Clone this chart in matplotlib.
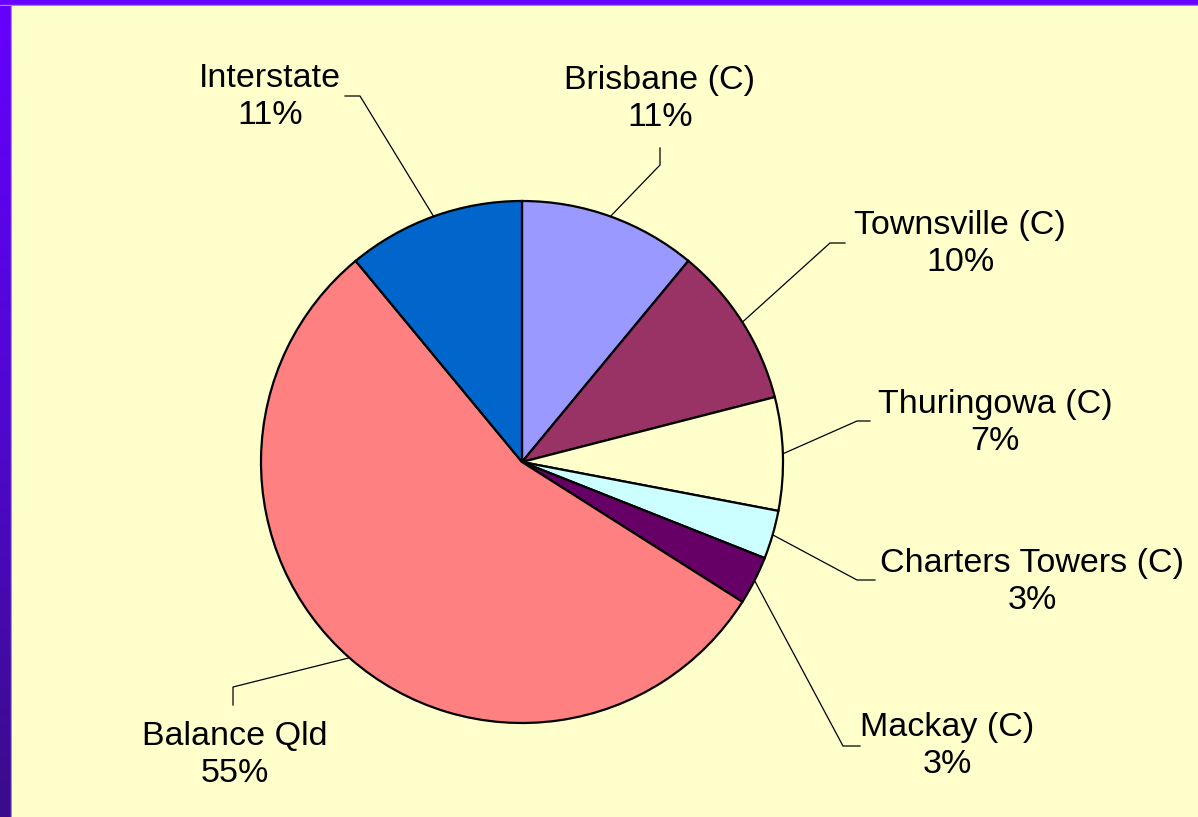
import numpy as np
import matplotlib.pyplot as plt
from matplotlib.patches import Rectangle
from matplotlib.colors import LinearSegmentedColormap

# share of each area, clockwise from 12 o'clock
areas = ['Brisbane (C)', 'Townsville (C)', 'Thuringowa (C)', 'Charters Towers (C)',
         'Mackay (C)', 'Balance Qld', 'Interstate']
shares = [11, 10, 7, 3, 3, 55, 11]
colours = ['#9999FF', '#993366', '#FFFFCC', '#CCFFFF', '#660066', '#FF8080', '#0066CC']

W, H = 1198, 817
TOP, LEFT = 6, 12
fig = plt.figure(figsize=(W / 100, H / 100), dpi=100)
fig.patch.set_facecolor('#FFFFCC')

# purple frame on the top and left side
top = fig.add_axes([0, 1 - TOP / H, 1, TOP / H])
top.add_patch(Rectangle((0, 0), 1, 1, color='#6600FF'))
top.add_patch(Rectangle((0, 0), 1, 1 / TOP, color='#A080FF'))
top.set_xlim(0, 1); top.set_ylim(0, 1); top.axis('off')

left = fig.add_axes([0, 0, LEFT / W, 1 - TOP / H])
grad = np.linspace(0, 1, 256).reshape(-1, 1)
cm = LinearSegmentedColormap.from_list('frame', ['#6600FF', '#5008D0', '#3A0C8A'])
left.imshow(grad, aspect='auto', cmap=cm, extent=[0, 1, 0, 1], origin='upper')
left.add_patch(Rectangle((1 - 1 / LEFT, 0), 1 / LEFT, 1, color='#A080FF'))
left.set_xlim(0, 1); left.set_ylim(0, 1); left.axis('off')

# main axes in pixel units (y measured from bottom)
ax = fig.add_axes([LEFT / W, 0, 1 - LEFT / W, 1 - TOP / H])

cx, cy, r = 522, H - 462, 261
wedges, _ = ax.pie(shares, colors=colours, startangle=90, counterclock=False,
                   center=(cx, cy), radius=r, frame=True,
                   wedgeprops=dict(edgecolor='black', linewidth=1.6))
ax.set_xlim(LEFT, W)
ax.set_ylim(0, H - TOP)
ax.set_aspect('equal')
ax.axis('off')

# label centre, leader elbow and leader end (pixels from top-left)
label_pos = [(660, 99), (960, 244), (995, 423), (1032, 582), (947, 746), (235, 755), (270, 97)]
elbows = [(660, 165), (830, 243), (857, 421), (857, 580), (843, 746), (233, 687), (360, 96)]
ends = [(660, 148), (845, 243), (870, 421), (875, 580), (860, 746), (233, 705), (345, 96)]

for w, name, pct, (lx, ly), (ex, ey), (tx, ty) in zip(wedges, areas, shares, label_pos, elbows, ends):
    mid = np.deg2rad((w.theta1 + w.theta2) / 2)
    px, py = cx + r * np.cos(mid), cy + r * np.sin(mid)
    ax.plot([px, ex, tx], [py, H - ey, H - ty], color='black', linewidth=0.9)
    ax.text(lx, H - ly, f'{name}\n{pct}%', ha='center', va='center',
            fontsize=24.5, family='Liberation Sans', linespacing=1.28)

fig.savefig('out.png', dpi=100, facecolor=fig.get_facecolor())
